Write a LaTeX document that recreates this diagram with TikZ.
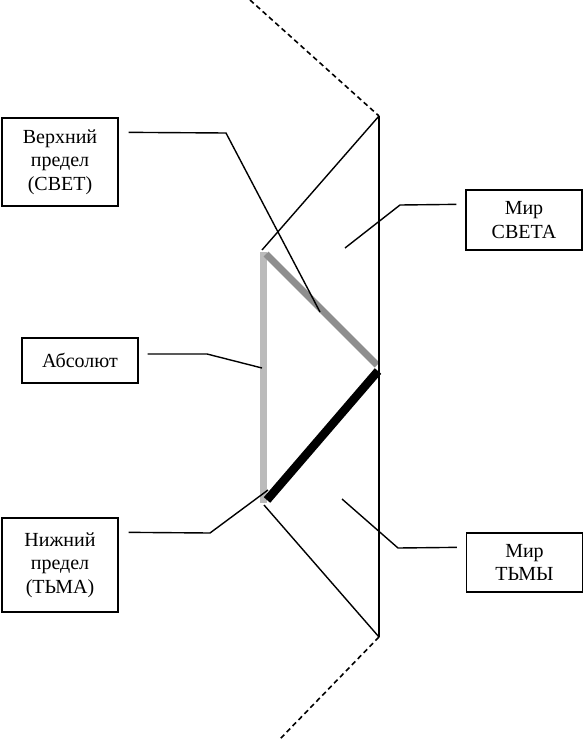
\documentclass[tikz,border=0pt]{standalone}
\usepackage{fontspec}
\setmainfont{Liberation Serif}
\usetikzlibrary{positioning}
\definecolor{paleg}{HTML}{BBBBBB}
\definecolor{midg}{HTML}{8E8E8E}

\begin{document}
\begin{tikzpicture}[x=1pt,y=-1pt, every node/.style={font=\fontsize{20}{23.5}\selectfont,align=center}, box/.style={draw,line width=1.3pt,minimum width=116pt,inner sep=0pt}, lead/.style={line width=1.4pt}, dashline/.style={line width=1.6pt,dash pattern=on 5pt off 3.5pt}, bar/.style={line width=7pt}]
\useasboundingbox (0,0) rectangle (586,739);
\node[box,minimum height=88pt] (upper) at (60,162) {Верхний\\предел\\(СВЕТ)};
\node[box,minimum height=45pt] (absol) at (80,360.5) {Абсолют};
\node[box,minimum height=94pt] (lower) at (60,565) {Нижний\\предел\\(ТЬМА)};
\node[box,minimum height=60pt] (light) at (524,220) {Мир\\СВЕТА};
\node[box,minimum height=59pt] (dark) at (524.5,562.5) {Мир\\ТЬМЫ};
\coordinate (top) at (250,0); \coordinate (up) at (379,116);
\coordinate (down) at (379,637); \coordinate (bot) at (280,739);
\coordinate (apexT) at (262,250); \coordinate (apexB) at (264,505); \coordinate (mid) at (379,368);
\draw[bar,paleg] (263,252)--(263,503);
\draw[bar,midg] (266,254)--(377,365);
\draw[bar,black,line width=8.5pt] (378,371)--(267,500);
\draw[dashline] (top)--(up); \draw[dashline] (down)--(bot);
\draw[lead] (up)--(down); \draw[lead] (up)--(apexT); \draw[lead] (down)--(apexB);
\draw[lead] ([shift={(10,15)}]upper.north east)--(226,133)--(320,312);
\draw[lead] ([shift={(9,-6.5)}]absol.east)--(207,354)--(262,368);
\draw[lead] ([shift={(10,15)}]lower.north east)--(210,533)--(268,490);
\draw[lead] ([shift={(-9,15)}]light.north west)--(400,205)--(345,248);
\draw[lead] ([shift={(-9,15)}]dark.north west)--(398,548)--(342,499);
\end{tikzpicture}
\end{document}
